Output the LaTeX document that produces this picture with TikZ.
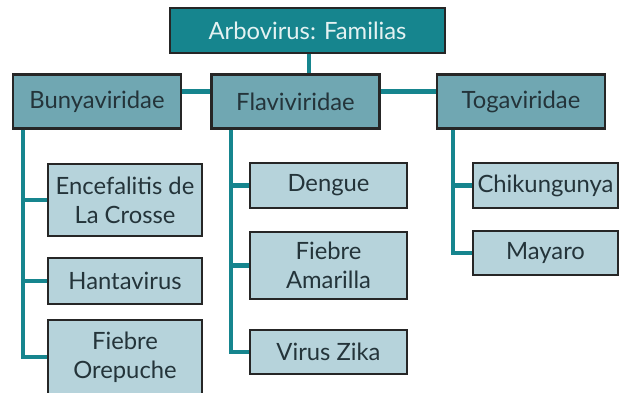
\documentclass[tikz,border=0pt]{standalone}
\usepackage{fontspec}
\setmainfont{Lato}
\usepackage{xcolor}
\usetikzlibrary{positioning,calc}

\definecolor{tealdark}{RGB}{22,133,142}
\definecolor{tealmid}{RGB}{112,167,178}
\definecolor{teallight}{RGB}{182,211,219}
\definecolor{textdark}{RGB}{36,52,58}
\definecolor{textlight}{RGB}{228,242,242}

\tikzset{
  box/.style={draw=black!85, line width=1.1pt, inner sep=0pt, align=center,
    font=\fontsize{11.9}{14.5}\selectfont, text=textdark},
  familybox/.style={box, fill=tealmid, minimum width=84pt, minimum height=27pt},
  virusbox/.style={box, fill=teallight, minimum width=77pt},
  link/.style={draw=tealdark, line width=2.2pt}
}

\begin{document}
\begin{tikzpicture}[x=0.5pt, y=-0.5pt]
\useasboundingbox (0,0) rectangle (619,392);

% Title
\node[box, fill=tealdark, text=textlight, minimum width=137.5pt, minimum height=22.5pt]
  (arbo) at (307.5,30.5) {Arbovirus: Familias};

% Families
\node[familybox] (bunya) at (97,101.5) {Bunyaviridae};
\node[familybox] (flavi) at (295.5,101.5) {Flaviviridae};
\node[familybox] (toga) at (521,101.5) {Togaviridae};

% Bunyaviridae viruses
\node[virusbox, minimum height=36pt] (encef) at (125,200) {Encefalitis de\\La Crosse};
\node[virusbox, minimum height=23pt] (hanta) at (125,281) {Hantavirus};
\node[virusbox, minimum height=37pt] (orep) at (125,357) {Fiebre\\Orepuche};

% Flaviviridae viruses
\node[virusbox, minimum width=78.5pt, minimum height=22.5pt] (dengue) at (328.5,185.5) {Dengue};
\node[virusbox, minimum width=78.5pt, minimum height=33.5pt] (amar) at (328.5,265.5) {Fiebre\\Amarilla};
\node[virusbox, minimum width=78.5pt, minimum height=22pt] (zika) at (328.5,352) {Virus Zika};

% Togaviridae viruses
\node[virusbox, minimum width=72.5pt, minimum height=22.5pt] (chik) at (545.5,185.5) {Chikungunya};
\node[virusbox, minimum width=72.5pt, minimum height=22pt] (mayaro) at (545.5,253) {Mayaro};

% Links between families
\coordinate (ab) at (309,0);
\draw[link] (arbo.south -| ab) -- (flavi.north -| ab);
\draw[link] ([yshift=5pt]bunya.east) -- ([yshift=5pt]flavi.west);
\draw[link] ([yshift=5pt]flavi.east) -- ([yshift=5pt]toga.west);

% Bunyaviridae branch
\coordinate (bb) at (23,0);
\draw[link] (bunya.south -| bb) |- (orep.west);
\draw[link] (encef.west -| bb) -- (encef.west);
\draw[link] (hanta.west -| bb) -- (hanta.west);

% Flaviviridae branch
\coordinate (fb) at (231,0);
\draw[link] (flavi.south -| fb) |- (zika.west);
\draw[link] (dengue.west -| fb) -- (dengue.west);
\draw[link] (amar.west -| fb) -- (amar.west);

% Togaviridae branch
\coordinate (tb) at (453,0);
\draw[link] (toga.south -| tb) |- (mayaro.west);
\draw[link] (chik.west -| tb) -- (chik.west);

\end{tikzpicture}
\end{document}
